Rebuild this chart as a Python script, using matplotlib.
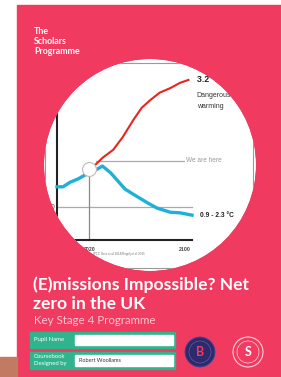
import matplotlib.pyplot as plt
from matplotlib.patches import Rectangle, Circle, PathPatch
from matplotlib.path import Path

# datos de la gráfica (año, calentamiento en °C)
red_years = [2025, 2031, 2040, 2048, 2057, 2064, 2071, 2079, 2088, 2096, 2103]
red_temp = [1.73, 1.85, 1.99, 2.21, 2.51, 2.72, 2.85, 2.98, 3.06, 3.15, 3.20]
blue_years = [1993, 1998, 2004, 2011, 2016, 2020, 2027, 2031, 2038, 2050, 2057,
              2069, 2077, 2088, 2096, 2106]
blue_temp = [1.35, 1.35, 1.43, 1.49, 1.55, 1.59, 1.66, 1.71, 1.59, 1.31, 1.22,
             1.07, 0.98, 0.91, 0.90, 0.86]
now_year, now_temp = 2020, 1.66
here_level = 1.80
base_level = 1.0
tick_years = [2020, 2100]
tick_labels = ["2020", "2100"]

pink = "#f03a60"
green = "#2fb48e"
W, H = 281, 377
sans = "Liberation Sans"
cx, cy, cr = 150, 165, 106

fig = plt.figure(figsize=(W / 100, H / 100), dpi=100)
bg = fig.add_axes([0, 0, 1, 1])
bg.set_xlim(0, W)
bg.set_ylim(H, 0)
bg.axis("off")

# portada
bg.add_patch(Rectangle((17, 5), W - 17, H - 5, color=pink, zorder=0))
bg.add_patch(Rectangle((0, 357), 17, 20, color="#c27a62", zorder=0))

circ = Circle((cx, cy), cr, facecolor="white", edgecolor="none", zorder=1)
bg.add_patch(circ)
frame = Rectangle((45, 63), 208, 205, fill=False, edgecolor="#9a9a9a", lw=0.8, zorder=2)
bg.add_patch(frame)
frame.set_clip_path(circ)


def clip(a):
    a.set_clip_on(True)
    a.set_clip_box(None)
    a.set_clip_path(circ)


# gráfica dentro del círculo
ax = fig.add_axes([57 / W, (H - 240) / H, 135 / W, 178 / H])
ax.set_zorder(3)
ax.patch.set_alpha(0)
ax.set_xlim(1993, 2106)
ax.set_ylim(0.43, 3.51)
for s in ax.spines.values():
    s.set_visible(False)

arts = []
arts.append(ax.axhline(base_level, color="#aaaaaa", lw=0.9))
arts += ax.plot([2026, 2099], [here_level, here_level], color="#aaaaaa", lw=0.9)
arts += ax.plot([now_year, now_year], [0.43, now_temp], color="#888888", lw=0.9)
arts += ax.plot([1993, 2106], [0.43, 0.43], color="#222222", lw=1.5)
arts += ax.plot([1993, 1993], [0.43, 3.51], color="#222222", lw=1.5)
arts += ax.plot(red_years, red_temp, color="#e8251c", lw=1.5)
arts += ax.plot(blue_years, blue_temp, color="#1fb0d6", lw=2.4)
arts += ax.plot([now_year], [now_temp], "o", ms=10, mfc="white", mec="#bbbbbb", mew=0.8)
for a in arts:
    clip(a)

ax.set_xticks(tick_years)
ax.set_xticklabels(tick_labels, fontsize=3.8, color="#444444", fontweight="bold",
                   family=sans)
ax.set_yticks([])
ax.tick_params(length=0, pad=5)
ax.text(1991.5, base_level, "1.0", fontsize=5, ha="right", va="center",
        color="#444444", family=sans)

ax.text(2110, 3.20, "3.2 °C", fontsize=6.3, fontweight="bold", va="center",
        color="#222222", family=sans)
ax.text(2110, 2.93, "Dangerous", fontsize=5, va="center", color="#333333",
        family=sans)
ax.text(2110, 2.74, "warming", fontsize=5, va="center", color="#333333",
        family=sans)
ax.text(2101, here_level, "We are here", fontsize=4.7, va="center", color="#9a9a9a",
        family=sans)
ax.text(2113, 0.85, "0.9 - 2.3 °C", fontsize=4.8, fontweight="bold", va="center",
        color="#222222", family=sans)
ax.text(2045, 0.17, "IPCC Data et al 2014/Rogelj et al 2015", fontsize=2.2,
        ha="center", color="#777777", family=sans)

# máscara rosa alrededor del círculo (recorta los textos que salen de él)
rect = Path([(17, 57), (17, 273), (W, 273), (W, 57), (17, 57)],
            [Path.MOVETO, Path.LINETO, Path.LINETO, Path.LINETO, Path.CLOSEPOLY])
hole = Path.circle((cx, cy), cr)
mask = PathPatch(Path.make_compound_path(rect, hole), facecolor=pink,
                 edgecolor="none", transform=bg.transData, zorder=10)
mask.set_clip_on(False)
ax.add_artist(mask)

# textos de la portada
for i, s in enumerate(["The", "Scholars", "Programme"]):
    bg.text(34, 32 + i * 9.5, s, fontsize=6.4, fontweight="bold", color="white",
            va="center", family="Lato", zorder=5)
bg.text(33, 285, "(E)missions Impossible? Net", fontsize=12.6, fontweight="bold",
        color="white", va="center", family="Lato", zorder=5)
bg.text(33, 304, "zero in the UK", fontsize=12.6, fontweight="bold",
        color="white", va="center", family="Lato", zorder=5)
bg.text(34, 320, "Key Stage 4 Programme", fontsize=8.3, color="#f9c8d3",
        va="center", family="Lato", zorder=5)

bg.add_patch(Rectangle((30, 332), 145, 16, color=green, zorder=4))
bg.add_patch(Rectangle((75, 335), 98, 10, color="white", zorder=5))
bg.text(34, 340, "Pupil Name", fontsize=4.3, color="white", va="center", family="Lato", zorder=6)
bg.add_patch(Rectangle((30, 352), 145, 17, color=green, zorder=4))
bg.add_patch(Rectangle((75, 355), 98, 11, color="white", zorder=5))
bg.text(34, 356.5, "Coursebook", fontsize=4.3, color="white", va="center", family="Lato", zorder=6)
bg.text(34, 364, "Designed by", fontsize=4.3, color="white", va="center", family="Lato", zorder=6)
bg.text(79, 360.5, "Robert Woollams", fontsize=4, color="#333333", va="center",
        family="Lato", zorder=6)

# logotipos
bg.add_patch(Circle((200, 352), 15, facecolor="#2d2a6e", edgecolor="#4a4a9a", lw=0.6, zorder=5))
bg.add_patch(Circle((200, 352), 11, facecolor="none", edgecolor="#6a6ab0", lw=0.4, zorder=6))
bg.text(200, 352, "B", fontsize=9, fontweight="bold", color=pink, ha="center",
        va="center", family="Lato", zorder=7)
bg.add_patch(Circle((248, 352), 15, facecolor=pink, edgecolor="#fbd3dc", lw=0.8, zorder=5))
bg.add_patch(Circle((248, 352), 11, facecolor="none", edgecolor="#fbd3dc", lw=0.5, zorder=6))
bg.text(248, 352, "S", fontsize=9, fontweight="bold", color="white", ha="center",
        va="center", family="Lato", zorder=7)

fig.savefig("out.png", dpi=100)
